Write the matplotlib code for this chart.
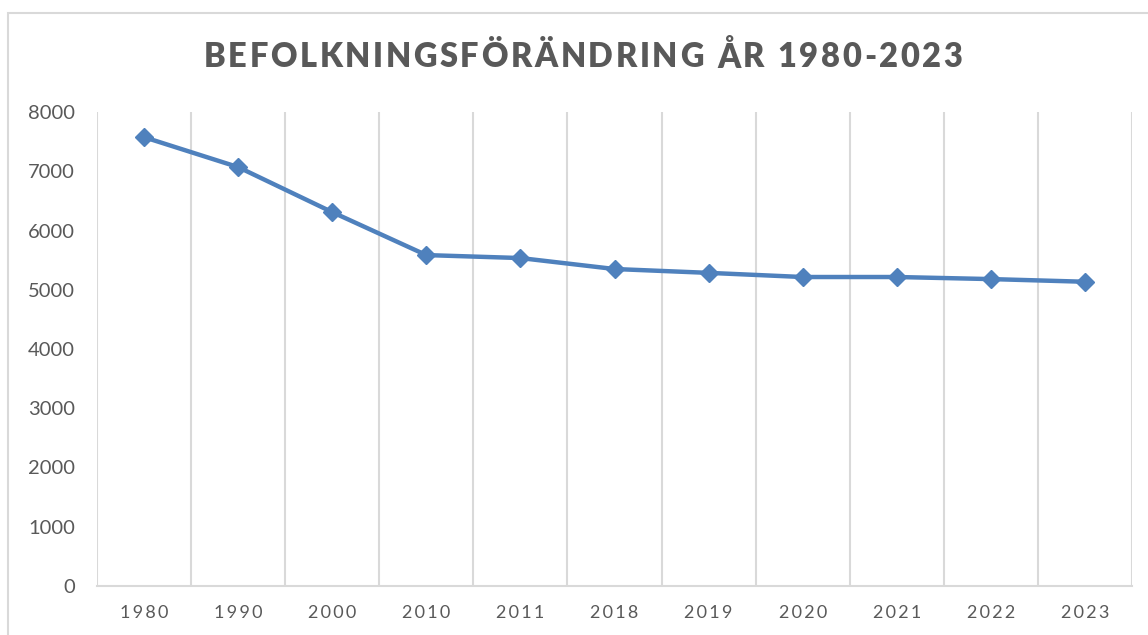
import matplotlib
matplotlib.use("Agg")
import matplotlib.pyplot as plt
from matplotlib.patches import Rectangle
import numpy as np

# data
years = ["1980", "1990", "2000", "2010", "2011", "2018", "2019", "2020", "2021", "2022", "2023"]
population = [7575, 7070, 6310, 5585, 5535, 5350, 5285, 5215, 5215, 5180, 5135]
y_ticks = [0, 1000, 2000, 3000, 4000, 5000, 6000, 7000, 8000]
title = "BEFOLKNINGSFÖRÄNDRING ÅR 1980-2023"

GRAY = "#595959"
BLUE = "#4F81BD"
GRID = "#D9D9D9"
W, H = 1148, 635

plt.rcParams['font.family'] = ['Lato', 'DejaVu Sans']


def spaced(s, sep="\u2009"):
    return sep.join(s)


def tracked_text(fig, text, xc, yc, track, **kw):
    # draw text one glyph at a time so letters get extra spacing
    r = fig.canvas.get_renderer()
    widths = []
    for ch in text:
        t = fig.text(0, 0, ch if ch != " " else "n", **kw)
        w = t.get_window_extent(r).width
        if ch == " ":
            w *= 0.45
        widths.append(w)
        t.remove()
    total = sum(widths) + track * (len(text) - 1)
    x = xc * W - total / 2
    for ch, w in zip(text, widths):
        if ch != " ":
            fig.text(x / W, yc, ch, ha="left", va="center", **kw)
        x += w + track


fig = plt.figure(figsize=(W / 100, H / 100), dpi=100)
ax = fig.add_axes([97 / W, (H - 586) / H, (1132 - 97) / W, (586 - 112) / H])

x = np.arange(len(years))
ax.plot(x, population, color=BLUE, lw=3.2, marker="D", ms=9,
        mfc=BLUE, mec=BLUE, zorder=3, clip_on=False)

ax.set_xlim(-0.5, len(years) - 0.5)
ax.set_ylim(0, 8000)
ax.set_yticks(y_ticks)
ax.set_yticklabels([str(v) for v in y_ticks])
ax.set_xticks(x)
ax.set_xticklabels([spaced(y) for y in years])
ax.set_xticks(np.arange(-0.5, len(years)), minor=True)
ax.grid(which="minor", axis="x", color=GRID, lw=1.5)
ax.tick_params(which="both", length=0, colors=GRAY)
ax.tick_params(axis="y", labelsize=14.5, pad=16)
ax.tick_params(axis="x", labelsize=13, pad=14)
for side in ["top", "left", "right"]:
    ax.spines[side].set_visible(False)
ax.spines["bottom"].set_color(GRID)
ax.spines["bottom"].set_linewidth(1.5)

# chart border
fig.patches.append(Rectangle((8 / W, -0.1), 1.2, 1 - 13 / H + 0.1, fill=False,
                             ec=GRID, lw=1.5, transform=fig.transFigure))

fig.canvas.draw()
tracked_text(fig, title, 583 / W, 1 - 57 / H, 2.6,
             fontsize=23.5, fontweight="heavy", color=GRAY)

fig.savefig("out.png", dpi=100)
